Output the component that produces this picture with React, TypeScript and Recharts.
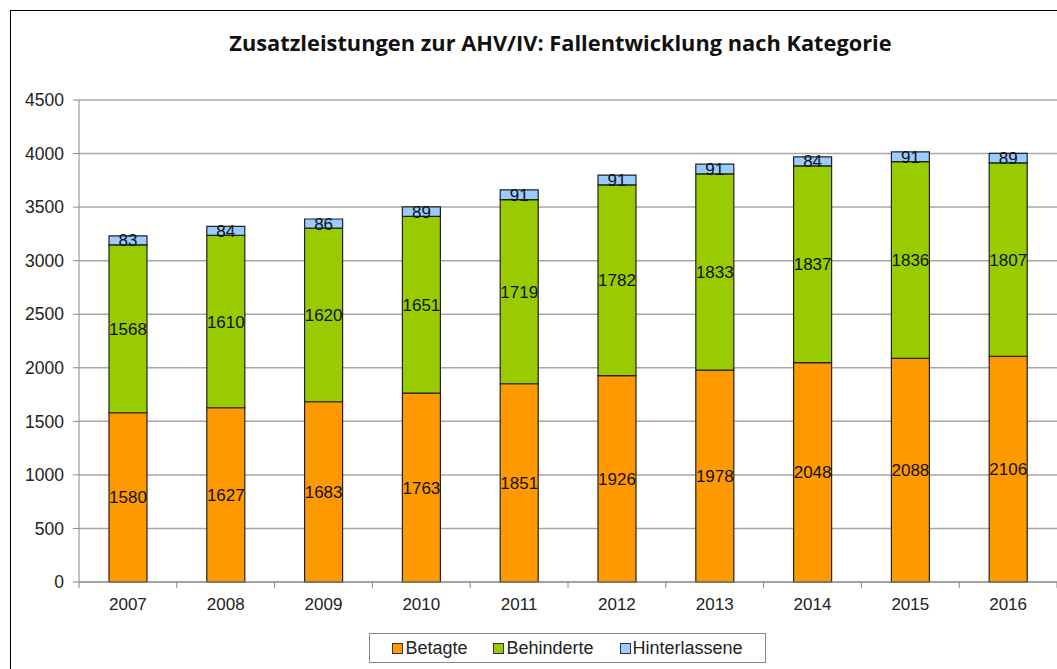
import { BarChart, Bar, XAxis, YAxis, CartesianGrid, LabelList } from "recharts";

const YEARS = ["2007", "2008", "2009", "2010", "2011", "2012", "2013", "2014", "2015", "2016"];
const BETAGTE = [1580, 1627, 1683, 1763, 1851, 1926, 1978, 2048, 2088, 2106];
const BEHINDERTE = [1568, 1610, 1620, 1651, 1719, 1782, 1833, 1837, 1836, 1807];
const HINTERLASSENE = [83, 84, 86, 89, 91, 91, 91, 84, 91, 89];
const Y_TICKS = [0, 500, 1000, 1500, 2000, 2500, 3000, 3500, 4000, 4500];

const SERIES = [
  { key: "betagte", name: "Betagte", color: "#ff9900" },
  { key: "behinderte", name: "Behinderte", color: "#99cc00" },
  { key: "hinterlassene", name: "Hinterlassene", color: "#99ccff" },
];

const data = YEARS.map((year, i) => ({
  year,
  betagte: BETAGTE[i],
  behinderte: BEHINDERTE[i],
  hinterlassene: HINTERLASSENE[i],
}));

const W = 1057;
const H = 669;
const PLOT_LEFT = 79;
const STEP = (W - PLOT_LEFT) / YEARS.length;
const FONT = "'Liberation Sans', Arial, sans-serif";

// category ticks sit between the bars, like the original
function YearTick(props: any) {
  const { x, y, payload, index } = props;
  const left = x - STEP / 2;
  return (
    <g>
      <line x1={left} y1={y - 8} x2={left} y2={y - 2} stroke="#888" />
      {index === YEARS.length - 1 && (
        <line x1={x + STEP / 2} y1={y - 8} x2={x + STEP / 2} y2={y - 2} stroke="#888" />
      )}
      <text x={x} y={y + 20} textAnchor="middle" fontSize={17} fill="#222" fontFamily={FONT}>
        {payload.value}
      </text>
    </g>
  );
}

export default function App() {
  return (
    <div style={{ position: "absolute", left: 0, top: 0, width: W, height: H, overflow: "hidden", background: "#fff" }}>
      <div
        style={{
          position: "absolute",
          left: 10,
          top: 10,
          width: W + 50,
          height: H + 50,
          border: "1.5px solid #000",
        }}
      />
      <div
        style={{
          position: "absolute",
          left: 0,
          width: W,
          top: 28,
          textAlign: "center",
          fontFamily: "'Open Sans', sans-serif",
          fontWeight: 700,
          fontSize: 21.8,
          color: "#111",
          paddingLeft: 64,
          boxSizing: "border-box",
        }}
      >
        Zusatzleistungen zur AHV/IV: Fallentwicklung nach Kategorie
      </div>
      <BarChart
        width={W}
        height={H}
        data={data}
        margin={{ top: 100, right: 0, left: 0, bottom: 57 }}
        style={{ position: "absolute", left: 0, top: 0 }}
      >
        <CartesianGrid vertical={false} stroke="#a6a6a6" strokeWidth={1.5} />
        <XAxis
          dataKey="year"
          height={30}
          tick={<YearTick />}
          tickLine={false}
          axisLine={{ stroke: "#888" }}
          interval={0}
        />
        <YAxis
          width={PLOT_LEFT}
          domain={[0, 4500]}
          ticks={Y_TICKS}
          interval={0}
          tick={{ fontSize: 17.5, fill: "#222", fontFamily: FONT, dx: -7 }}
          tickLine={{ stroke: "#888" }}
          tickSize={6}
          axisLine={{ stroke: "#888" }}
        />
        {SERIES.map((s) => (
          <Bar
            key={s.key}
            dataKey={s.key}
            name={s.name}
            stackId="a"
            fill={s.color}
            stroke="#222"
            strokeWidth={1.2}
            barSize={38}
            isAnimationActive={false}
          >
            <LabelList dataKey={s.key} position="center" fontSize={17} fill="#111" fontFamily={FONT} />
          </Bar>
        ))}
      </BarChart>
      <div
        style={{
          position: "absolute",
          left: 369,
          top: 633,
          width: 397,
          height: 30,
          border: "1px solid #888",
          boxSizing: "border-box",
          display: "flex",
          alignItems: "center",
          justifyContent: "center",
          gap: 26,
          fontFamily: FONT,
          fontSize: 18,
          color: "#222",
        }}
      >
        {SERIES.map((s) => (
          <span key={s.key} style={{ display: "flex", alignItems: "center" }}>
            <span
              style={{
                display: "inline-block",
                width: 9,
                height: 9,
                background: s.color,
                border: "1px solid #333",
                marginRight: 2,
              }}
            />
            {s.name}
          </span>
        ))}
      </div>
    </div>
  );
}
